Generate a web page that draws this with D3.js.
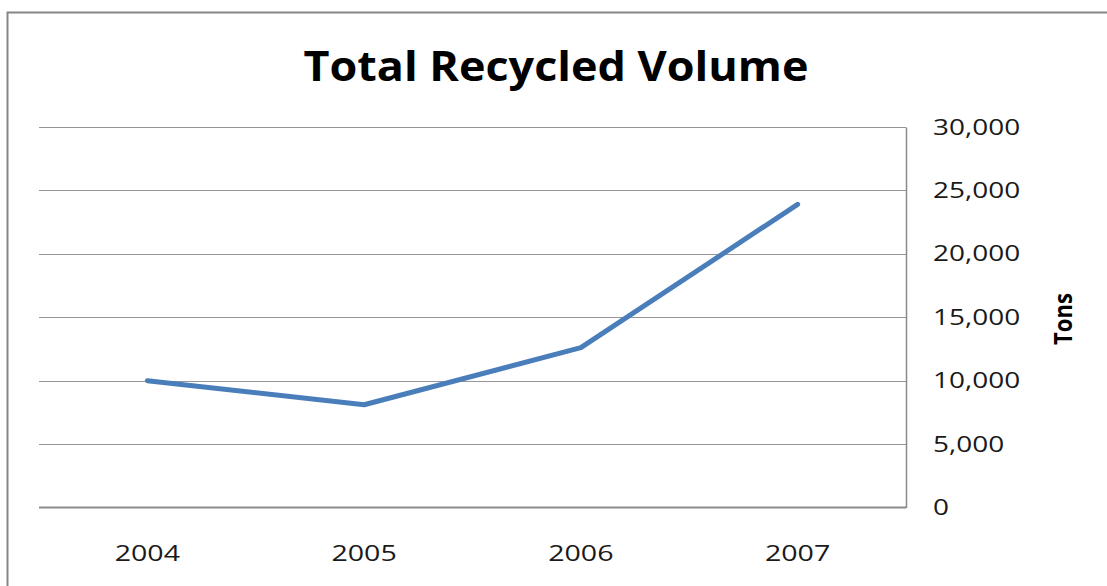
<!DOCTYPE html>
<html>
<head>
<meta charset="utf-8">
<script src="https://cdn.jsdelivr.net/npm/d3@7"></script>
<style>
  html, body { margin: 0; padding: 0; background: #fff; }
  svg { display: block; }
</style>
</head>
<body>
<div id="chart"></div>
<script>
'use strict';

var years = ["2004", "2005", "2006", "2007"];
var tons = [10000, 8100, 12600, 23900];
var yTicks = [0, 5000, 10000, 15000, 20000, 25000, 30000];

var width = 1107;
var height = 586;
var margin = {top: 127, right: 201, bottom: 78.5, left: 39};

var svg = d3.select("#chart").append("svg")
    .attr("width", width)
    .attr("height", height);

// outer chart border (runs off the right/bottom of the picture)
svg.append("rect")
    .attr("x", 7.5)
    .attr("y", 12.5)
    .attr("width", width + 20)
    .attr("height", height + 20)
    .attr("fill", "none")
    .attr("stroke", "#868686")
    .attr("stroke-width", 2);

var x = d3.scalePoint()
    .domain(years)
    .range([margin.left, width - margin.right])
    .padding(0.5);

var y = d3.scaleLinear()
    .domain([0, 30000])
    .range([height - margin.bottom, margin.top]);

var fmt = d3.format(",");

// the picture is a bit stretched sideways, so widen the glyphs to match
function widen(sel, k) {
  sel.each(function() {
    var w = this.getComputedTextLength();
    d3.select(this)
      .attr("textLength", w * k)
      .attr("lengthAdjust", "spacingAndGlyphs");
  });
}

// gridlines
svg.append("g")
    .attr("class", "grid")
  .selectAll("line")
  .data(yTicks.filter(function(d) { return d > 0; }))
  .enter().append("line")
    .attr("x1", margin.left)
    .attr("x2", width - margin.right)
    .attr("y1", function(d) { return Math.round(y(d)) + 0.5; })
    .attr("y2", function(d) { return Math.round(y(d)) + 0.5; })
    .attr("stroke", "#959595")
    .attr("stroke-width", 1);

// baseline at zero
svg.append("line")
    .attr("x1", margin.left)
    .attr("x2", width - margin.right)
    .attr("y1", y(0))
    .attr("y2", y(0))
    .attr("stroke", "#8a8a8a")
    .attr("stroke-width", 2);

// value axis on the right
var yAxis = svg.append("g")
    .attr("transform", "translate(" + (width - margin.right) + ",0)")
    .call(d3.axisRight(y).tickValues(yTicks).tickFormat(fmt).tickSize(0).tickPadding(27));

yAxis.select(".domain")
    .attr("stroke", "#8a8a8a")
    .attr("stroke-width", 1.5);

yAxis.selectAll("text")
    .attr("font-family", "'Open Sans', sans-serif")
    .attr("font-size", 22)
    .attr("fill", "#1a1a1a")
    .call(widen, 1.27);

// category labels
svg.append("g")
  .selectAll("text")
  .data(years)
  .enter().append("text")
    .attr("x", function(d) { return x(d); })
    .attr("y", 561)
    .attr("text-anchor", "middle")
    .attr("font-family", "'Open Sans', sans-serif")
    .attr("font-size", 22.5)
    .attr("fill", "#1a1a1a")
    .text(function(d) { return d; })
    .call(widen, 1.27);

// the line
var line = d3.line()
    .x(function(d, i) { return x(years[i]); })
    .y(function(d) { return y(d); });

svg.append("path")
    .datum(tons)
    .attr("d", line)
    .attr("fill", "none")
    .attr("stroke", "#4a7ebb")
    .attr("stroke-width", 5)
    .attr("stroke-linejoin", "round")
    .attr("stroke-linecap", "round");

// title
svg.append("text")
    .attr("x", 556)
    .attr("y", 80.5)
    .attr("text-anchor", "middle")
    .attr("font-family", "'Open Sans', sans-serif")
    .attr("font-weight", "bold")
    .attr("font-size", 42)
    .attr("fill", "#000")
    .attr("textLength", 505)
    .attr("lengthAdjust", "spacingAndGlyphs")
    .text("Total Recycled Volume");

// axis title
svg.append("text")
    .attr("transform", "translate(1072,319) scale(1.27,1) rotate(-90)")
    .attr("text-anchor", "middle")
    .attr("font-family", "'Open Sans', sans-serif")
    .attr("font-weight", "bold")
    .attr("font-size", 20)
    .attr("fill", "#000")
    .attr("textLength", 52)
    .attr("lengthAdjust", "spacingAndGlyphs")
    .text("Tons");
</script>
</body>
</html>
